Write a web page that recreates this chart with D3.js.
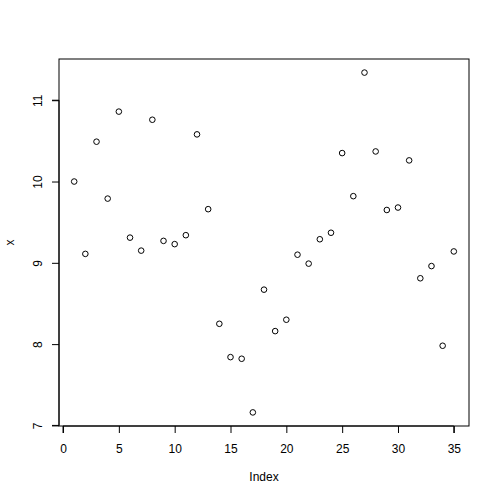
<!DOCTYPE html>
<html>
<head>
<meta charset="utf-8">
<script src="https://cdn.jsdelivr.net/npm/d3@7"></script>
<style>
  body { margin: 0; background: #fff; }
  text { font-family: "Liberation Sans", Arial, sans-serif; fill: #000; }
</style>
</head>
<body>
<svg class="container"></svg>
<script>
// values, one per index 1..35
const xValues = [
  10.0, 9.11, 10.49, 9.79, 10.86, 9.31, 9.15, 10.76, 9.27, 9.23,
  9.34, 10.58, 9.66, 8.25, 7.84, 7.82, 7.16, 8.67, 8.16, 8.30,
  9.10, 8.99, 9.29, 9.37, 10.35, 9.82, 11.34, 10.37, 9.65, 9.68,
  10.26, 8.81, 8.96, 7.98, 9.14
];
const xTicks = [0, 5, 10, 15, 20, 25, 30, 35];
const yTicks = [7, 8, 9, 10, 11];

const width = 500;
const height = 500;
const plotLeft = 59, plotRight = 469, plotTop = 59, plotBottom = 426;

const svg = d3.select(".container");
svg.attr("width", width).attr("height", height);

const data = xValues.map((v, i) => [i + 1, v]);

// R style 4% padding around the data range
const xr = d3.extent(data, (d) => d[0]);
const yr = d3.extent(data, (d) => d[1]);
const xPad = (xr[1] - xr[0]) * 0.04;
const yPad = (yr[1] - yr[0]) * 0.04;

const xScale = d3
  .scaleLinear()
  .domain([xr[0] - xPad, xr[1] + xPad])
  .range([plotLeft, plotRight]);

const yScale = d3
  .scaleLinear()
  .domain([yr[0] - yPad, yr[1] + yPad])
  .range([plotBottom, plotTop]);

// axes: only the span between first and last tick, like R
const xAxis = d3.axisBottom(xScale).tickValues(xTicks).tickSize(7).tickPadding(11).tickFormat(d3.format("d"));
const gx = svg.append("g").attr("transform", `translate(0,${plotBottom})`).call(xAxis);
gx.select(".domain").attr("d", `M${xScale(0)},7V0H${xScale(35)}V7`).attr("stroke", "#000");
gx.selectAll("text").style("font-size", "12px").attr("fill", "#000");

const yAxis = d3.axisLeft(yScale).tickValues(yTicks).tickSize(7).tickFormat(d3.format("d"));
const gy = svg.append("g").attr("transform", `translate(${plotLeft},0)`).call(yAxis);
gy.select(".domain").attr("d", `M-7,${yScale(7)}H0V${yScale(11)}H-7`).attr("stroke", "#000");
// R draws y labels parallel to the axis
gy.selectAll(".tick text")
  .style("font-size", "12px")
  .attr("fill", "#000")
  .attr("text-anchor", "middle")
  .attr("dy", 0)
  .attr("x", 0)
  .attr("y", 0)
  .attr("transform", "translate(-17,0) rotate(-90)");

// box around the plot region
svg
  .append("rect")
  .attr("x", plotLeft)
  .attr("y", plotTop)
  .attr("width", plotRight - plotLeft)
  .attr("height", plotBottom - plotTop)
  .attr("fill", "none")
  .attr("stroke", "#000");

svg
  .selectAll("circle")
  .data(data)
  .enter()
  .append("circle")
  .attr("cx", (d) => xScale(d[0]))
  .attr("cy", (d) => yScale(d[1]))
  .attr("r", 2.8)
  .attr("fill", "none")
  .attr("stroke", "#000");

svg
  .append("text")
  .attr("x", (plotLeft + plotRight) / 2)
  .attr("y", 481)
  .attr("text-anchor", "middle")
  .style("font-size", "12px")
  .text("Index");

svg
  .append("text")
  .attr("transform", `translate(14,${(plotTop + plotBottom) / 2}) rotate(-90)`)
  .attr("text-anchor", "middle")
  .style("font-size", "12px")
  .text("x");
</script>
</body>
</html>
